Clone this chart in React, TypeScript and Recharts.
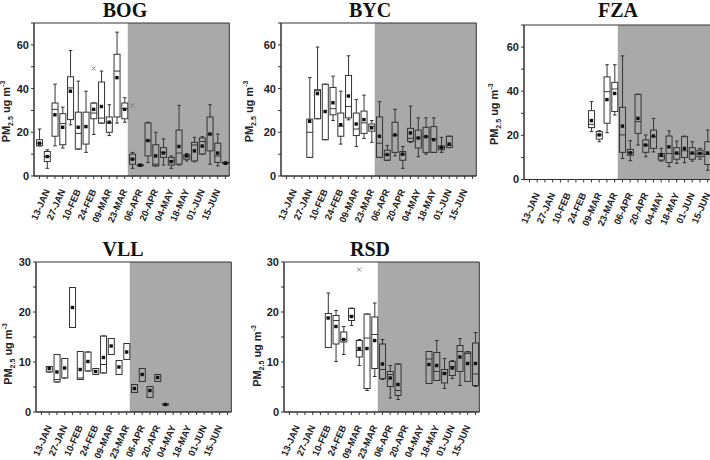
import React from 'react';
import { ComposedChart, Bar, Scatter, XAxis, YAxis, ReferenceArea } from 'recharts';

// week 0 = 13-JAN, one box per week
const ALL_WEEKS = [-1, 0, 1, 2, 3, 4, 5, 6, 7, 8, 9, 10, 11, 12, 13, 14, 15, 16, 17, 18, 19, 20, 21, 22, 23];
const TICK_LABELS = ['13-JAN', '27-JAN', '10-FEB', '24-FEB', '09-MAR', '23-MAR', '06-APR', '20-APR', '04-MAY', '18-MAY', '01-JUN', '15-JUN'];

// row = [week, min, q1, median, q3, max, mean]
const BOG_BOXES = [
  [-1, 13.8, 13.8, 15, 16.6, 21.5, 15],
  [0, 3.5, 6.6, 8.9, 11.2, 12, 8.9],
  [1, 13.8, 18.2, 30.5, 33.4, 42, 28],
  [2, 12.8, 14.3, 24, 28.5, 31.5, 22.3],
  [3, 23.4, 25.8, 40.3, 45.4, 57.4, 38.8],
  [4, 12.3, 12.3, 19.5, 29.2, 43.4, 22.3],
  [5, 10.8, 14.6, null, 29.2, 38.8, 22.6],
  [6, 19, 26.2, 28.8, 33.4, 33.4, 30.5],
  [7, 24.2, 24.2, 26.5, 43, 48, 31.8],
  [8, 18.5, 20, 24.3, 27, 32.6, 24.6],
  [9, 24.2, 27, 48, 55.7, 65.8, 45],
  [10, 24.6, 26.2, 30.8, 33.4, 35.8, 30.5],
  [11, 3.5, 5.4, 7.7, 10, 10.8, 7.7],
  [12, 4.6, 4.6, 5, 5.2, 5.4, 4.9],
  [13, 6.2, 9.2, 16.2, 24.3, 24.6, 16.2],
  [14, 4.6, 4.6, 5.4, 14.3, 20, 9.2],
  [15, 5, 8.5, 10.8, 13, 17, 10.5],
  [16, 3.5, 5, 6.9, 8.5, 9.2, 6.6],
  [17, 5, 5.4, 10.5, 21, 32.3, 13.5],
  [18, 6.9, 7.7, 9, 9.7, 10.3, 9.2],
  [19, 6.5, 6.9, 14.2, 15.4, 17.7, 11.5],
  [20, 10, 10, 15.8, 17.4, 18, 13.7],
  [21, 5.4, 11.5, 19, 27, 32.6, 19.2],
  [22, 4.6, 6.2, 9.2, 15, 19.2, 10.5],
  [23, 5.5, 5.7, 6, 6.2, 6.5, 5.8],
];
const BOG_OUTLIERS = [[6, 49.2], [11, 32.3]];

const BYC_BOXES = [
  [2, 8.5, 8.5, 20, 26, 45, 25],
  [3, 26.2, 26.2, 39, 39.5, 59, 37.7],
  [4, 16.6, 16.6, null, 42, 42, 29.5],
  [5, 25.4, 28, 30.8, 40.5, 45.7, 33.5],
  [6, 14.6, 18.2, 22.8, 28.8, 38.8, 23.5],
  [7, 25.7, 26.6, 31.8, 46, 55, 36.6],
  [8, 13.5, 18.5, 21.5, 28.8, 35, 23.8],
  [9, 17.2, 19.5, 24.3, 29.7, 37, 25.8],
  [10, 15.4, 20.5, 22.8, 23.8, 25.4, 22],
  [11, 8.5, 8.5, 15, 27, 34, 18.2],
  [12, 7.2, 7.2, 9.7, 11.8, 14, 9.8],
  [13, 9.2, 10.8, 18.5, 24.6, 30.5, 18.8],
  [14, 3.5, 7.2, 10, 11.2, 13.5, 10],
  [15, 15.4, 15.8, 17.2, 21.8, 32, 19.7],
  [16, 8.8, 12.8, 17.4, 21, 26.6, 17.4],
  [17, 10, 10.8, 18, 22.3, 26.6, 18],
  [18, 10.8, 10.8, 17, 22.6, 26.6, 16.6],
  [19, 10.8, 12, 13, 13.8, 17.7, 13],
  [20, 13, 13, 14, 18.2, 18.2, 14.6],
];

const FZA_BOXES = [
  [7, 21.7, 23.5, 25, 31.2, 35.3, 26.7],
  [8, 17.1, 18.3, 20.2, 21.7, 22.1, 20.2],
  [9, 21.2, 25.5, 39.8, 46.5, 52, 36.2],
  [10, 29.2, 30.8, 41, 44, 52, 39],
  [11, 9.5, 12.3, 20.2, 32.7, 56, 24.2],
  [12, 8.5, 11, 12.2, 13.6, 17.6, 12.1],
  [13, 15.6, 20.9, 26.2, 38.6, 38.6, 27.7],
  [14, 10.3, 12.3, 15.6, 17.9, 20.2, 15.6],
  [15, 12.5, 14.1, 19.4, 22.4, 27.7, 19.7],
  [16, 8.3, 8.8, 10.5, 11.8, 14.1, 11],
  [17, 5.8, 7.7, 11.8, 19.7, 22, 14.8],
  [18, 7.3, 9.2, 11.8, 14.4, 17.4, 12],
  [19, 7.6, 10, 13, 19.4, 19.7, 14.1],
  [20, 8.3, 9.2, 11.8, 14.4, 17.1, 12],
  [21, 9.2, 10.3, 11.8, 13.3, 14.1, 11.8],
  [22, 4.2, 6.8, 11.4, 17.1, 22.4, 12],
];

const VLL_BOXES = [
  [0, 8, 8, null, 9.1, 9.1, 8.7],
  [1, 6, 6, 6.5, 11.5, 11.5, 8],
  [2, 6.8, 6.8, null, 10.7, 10.7, 8.8],
  [3, 16.9, 16.9, null, 24.9, 24.9, 20.9],
  [4, 6.5, 6.5, 6.8, 12.1, 12.1, 8.5],
  [5, 8.2, 8.2, null, 12, 12, 10.1],
  [6, 7.5, 7.5, null, 8.7, 8.7, 8.1],
  [7, 7.8, 7.8, 9.5, 15.2, 15.2, 10.9],
  [8, 11.5, 11.5, null, 14.7, 14.7, 13.2],
  [9, 7.5, 7.5, null, 10.3, 10.3, 9],
  [10, 10.5, 10.5, null, 13.7, 13.7, 12],
  [11, 3.9, 3.9, null, 5.5, 5.5, 4.7],
  [12, 6.1, 6.1, null, 8.7, 8.7, 7.5],
  [13, 2.9, 2.9, null, 5.1, 5.1, 4.3],
  [14, 6.1, 6.1, null, 7.5, 7.5, 6.9],
  [15, 1.4, 1.4, null, 1.6, 1.6, 1.5],
];

const RSD_BOXES = [
  [4, 12.9, 12.9, null, 19.7, 23.8, 18.8],
  [5, 10.1, 13.6, 18.3, 19.3, 20.3, 17.1],
  [6, 11.5, 14, 14.5, 16, 17.1, 14.5],
  [7, 17.3, 18.3, 19.2, 20.7, 20.8, 19.1],
  [8, 9.3, 11, 12.3, 14.3, 14.5, 12.7],
  [9, 4.3, 4.7, 14.8, 19.6, 19.6, 12.7],
  [10, 7.1, 8.7, 15.5, 19, 21.8, 14.3],
  [11, 6.5, 6.7, 8.5, 13.6, 14.5, 9.6],
  [12, 2.8, 5.1, 7.5, 8.1, 9.3, 6.8],
  [13, 2.5, 3.3, 4.3, 9.6, 9.6, 5.5],
  [17, 5.7, 5.7, 10.6, 12.1, 12.1, 9.5],
  [18, 6.3, 6.3, 8.1, 11.9, 14.3, 9.3],
  [19, 4.7, 5.8, 7.8, 8.5, 10.7, 7.7],
  [20, 6.7, 7.3, 9.1, 10.1, 10.3, 8.8],
  [21, 5.3, 8.1, 12.1, 13.3, 14.7, 11],
  [22, 6.1, 6.1, 11.7, 12, 12.1, 9.7],
  [23, 5.1, 5.3, 7.6, 13.8, 15.9, 9.7],
];
const RSD_OUTLIERS = [[8, 28.5]];

const SHADE_FROM = 10.4;
const X_DOMAIN = [-1.7, 23.5];
const INK = '#333';
const SANS = '"Liberation Sans", Arial, sans-serif';

const toRows = (boxes: any[]) =>
  boxes.map(([week, min, q1, med, q3, max, mean]) => ({ week, min, q1, med, q3, max, mean }));
const toPoints = (pts: any[]) => pts.map(([week, value]) => ({ week, value }));

const BoxShape = (props: any) => {
  const { x, y, width, height, payload } = props;
  if (!payload || x == null || y == null) return null;
  const top = Math.min(y, y + height);
  const h = Math.abs(height);
  const span = payload.max - payload.min;
  const toY = (v: number) => (span > 0 ? top + (h * (payload.max - v)) / span : top);
  const cx = x + width / 2;
  const yQ3 = toY(payload.q3);
  const yQ1 = toY(payload.q1);
  return (
    <g stroke={INK} strokeWidth={1} fill="none">
      <line x1={cx} x2={cx} y1={top} y2={yQ3} />
      <line x1={cx} x2={cx} y1={yQ1} y2={top + h} />
      <line x1={cx - 1.8} x2={cx + 1.8} y1={top} y2={top} />
      <line x1={cx - 1.8} x2={cx + 1.8} y1={top + h} y2={top + h} />
      <rect x={x} y={yQ3} width={width} height={Math.max(yQ1 - yQ3, 0.8)} />
      {payload.med != null && <line x1={x} x2={x + width} y1={toY(payload.med)} y2={toY(payload.med)} />}
    </g>
  );
};

const MeanDot = (props: any) => (
  <rect x={props.cx - 1.7} y={props.cy - 1.7} width={3.4} height={3.4} fill="#111" />
);

const Cross = (props: any) => (
  <g stroke="#777" strokeWidth={0.9}>
    <line x1={props.cx - 2} x2={props.cx + 2} y1={props.cy - 2} y2={props.cy + 2} />
    <line x1={props.cx - 2} x2={props.cx + 2} y1={props.cy + 2} y2={props.cy - 2} />
  </g>
);

const WeekTick = (props: any) => {
  const { x, y, payload } = props;
  const w = payload.value;
  if (w < 0 || w % 2 !== 0) return <g />;
  const px = x + 3;
  const py = y + 10;
  return (
    <text x={px} y={py} transform={`rotate(-66, ${px}, ${py})`} textAnchor="end"
      fontSize={9.5} fontWeight="bold" fontFamily={SANS} fill="#222">
      {TICK_LABELS[w / 2]}
    </text>
  );
};

const makeYTick = (step: number) => (props: any) => {
  const { x, y, payload } = props;
  if (payload.value % step !== 0) return <g />;
  return (
    <text x={x} y={y} dy={4} textAnchor="end" fontSize={11} fontWeight="bold" fontFamily={SANS} fill="#222">
      {payload.value}
    </text>
  );
};

const makeYLabel = (dx: number, dy: number) => (props: any) => {
  const vb = props.viewBox;
  const lx = vb.x + vb.width - dx;
  const ly = vb.y + vb.height / 2 + dy;
  return (
    <text x={lx} y={ly} transform={`rotate(-90, ${lx}, ${ly})`} textAnchor="middle"
      fontSize={11} fontWeight="bold" fontFamily={SANS} fill="#222">
      <tspan>PM</tspan>
      <tspan fontSize={7} dy={3}>2.5</tspan>
      <tspan dy={-3}> ug m</tspan>
      <tspan fontSize={7} dy={-5}>-3</tspan>
    </text>
  );
};

type PanelProps = {
  boxes: any[];
  outliers?: any[];
  yMax: number;
  yTicks: number[];
  yStep: number;
  left: number;
  top: number;
  w: number;
  h: number;
  labelDX: number;
  labelDY: number;
};

const Y_AXIS_W = 50;

const Panel = ({ boxes, outliers, yMax, yTicks, yStep, left, top, w, h, labelDX, labelDY }: PanelProps) => {
  const rows = toRows(boxes);
  return (
    <div style={{ position: 'absolute', left: left - Y_AXIS_W, top: top - 5 }}>
      <ComposedChart width={Y_AXIS_W + w + 5} height={5 + h + 60} data={rows}
        margin={{ top: 5, right: 5, bottom: 0, left: 0 }}>
        <XAxis dataKey="week" type="number" domain={X_DOMAIN} ticks={ALL_WEEKS} interval={0}
          allowDataOverflow tickSize={3} height={60} tick={<WeekTick />}
          axisLine={{ stroke: INK }} tickLine={{ stroke: INK }} />
        <YAxis type="number" domain={[0, yMax]} ticks={yTicks} interval={0} allowDataOverflow
          width={Y_AXIS_W} tickSize={3} tick={makeYTick(yStep)}
          axisLine={{ stroke: INK }} tickLine={{ stroke: INK }}
          label={{ content: makeYLabel(labelDX, labelDY) }} />
        <ReferenceArea x1={SHADE_FROM} x2={X_DOMAIN[1]} y1={0} y2={yMax}
          fill="#a9a9a9" fillOpacity={1} stroke="none" />
        <ReferenceArea x1={X_DOMAIN[0]} x2={X_DOMAIN[1]} y1={0} y2={yMax}
          fill="none" stroke={INK} strokeWidth={1} />
        <Bar dataKey={(d: any) => [d.min, d.max]} barSize={6} shape={<BoxShape />} isAnimationActive={false} />
        <Scatter dataKey="mean" shape={MeanDot} isAnimationActive={false} />
        {outliers && (
          <Scatter data={toPoints(outliers)} dataKey="value" shape={Cross} isAnimationActive={false} />
        )}
      </ComposedChart>
    </div>
  );
};

const TOP_TICKS = [0, 10, 20, 30, 40, 50, 60, 70];
const BOTTOM_TICKS = [0, 5, 10, 15, 20, 25, 30];

const Title = ({ x, y, text }: { x: number; y: number; text: string }) => (
  <text x={x} y={y} textAnchor="middle" fontSize={20} fontWeight="bold"
    fontFamily='"Liberation Serif", "Times New Roman", serif' fill="#111">
    {text}
  </text>
);

export default function App() {
  return (
    <div style={{ position: 'absolute', left: 0, top: 0, width: 710, height: 460, overflow: 'hidden', background: '#fff' }}>
      <svg width={710} height={460} style={{ position: 'absolute', left: 0, top: 0 }}>
        <Title x={125} y={17} text="BOG" />
        <Title x={370} y={17} text="BYC" />
        <Title x={618} y={17} text="FZA" />
        <Title x={123} y={256} text="VLL" />
        <Title x={370} y={256} text="RSD" />
      </svg>
      <Panel boxes={BOG_BOXES} outliers={BOG_OUTLIERS} yMax={70} yTicks={TOP_TICKS} yStep={20}
        left={33.5} top={22.5} w={195.3} h={153} labelDX={23.5} labelDY={12} />
      <Panel boxes={BYC_BOXES} yMax={70} yTicks={TOP_TICKS} yStep={20}
        left={281.3} top={22.5} w={195.3} h={153} labelDX={28} labelDY={12} />
      <Panel boxes={FZA_BOXES} yMax={70} yTicks={TOP_TICKS} yStep={20}
        left={524.3} top={25} w={195.3} h={154.5} labelDX={26} labelDY={12} />
      <Panel boxes={VLL_BOXES} yMax={30} yTicks={BOTTOM_TICKS} yStep={10}
        left={35.5} top={261.7} w={195.3} h={150} labelDX={23.5} labelDY={17} />
      <Panel boxes={RSD_BOXES} outliers={RSD_OUTLIERS} yMax={30} yTicks={BOTTOM_TICKS} yStep={10}
        left={284.4} top={262.3} w={195.3} h={150} labelDX={22.5} labelDY={19} />
    </div>
  );
}
